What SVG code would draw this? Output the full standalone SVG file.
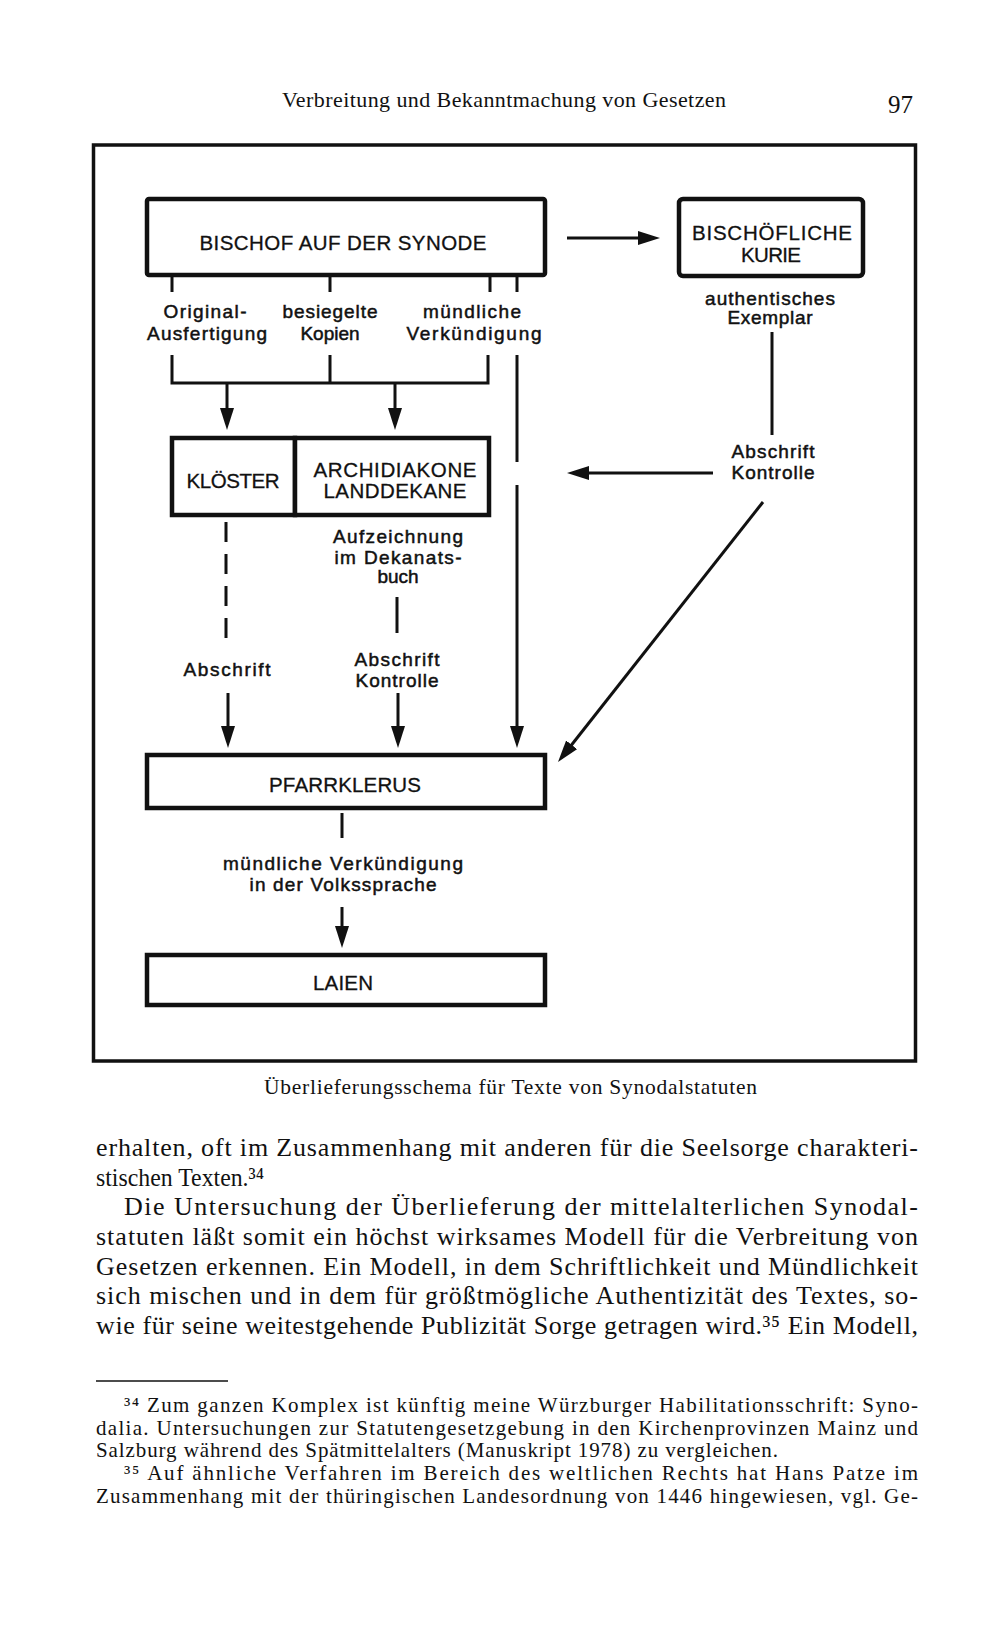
<svg xmlns="http://www.w3.org/2000/svg" width="1000" height="1626" viewBox="0 0 1000 1626">
<style>
.page{font-family:"Liberation Serif","Times New Roman",serif;fill:#111}
.body{font-size:26px}
.fn{font-size:21px}
.box{fill:#fff;stroke:#111;stroke-width:4.5}
.ttl{font-family:"Liberation Sans",Arial,sans-serif;font-size:20.5px;fill:#111;text-anchor:middle;stroke:#111;stroke-width:0.3}
.lbl{font-family:"Liberation Sans",Arial,sans-serif;font-size:19px;fill:#111;text-anchor:middle;stroke:#111;stroke-width:0.5}
.con{fill:none;stroke:#111;stroke-width:3}
.arr{marker-end:url(#ah)}
</style>
<defs>
<marker id="ah" markerUnits="userSpaceOnUse" markerWidth="22" markerHeight="14" refX="12" refY="7" orient="auto" viewBox="0 0 22 14">
<path d="M0,0 L22,7 L0,14 z" fill="#111"/>
</marker>
</defs>
<rect width="1000" height="1626" fill="#fff"/>

<!-- page header -->
<text class="page" x="282" y="107" font-size="22" textLength="444">Verbreitung und Bekanntmachung von Gesetzen</text>
<text class="page" x="888" y="113" font-size="25" textLength="25">97</text>

<!-- frame -->
<rect x="93.5" y="145" width="822" height="916" fill="none" stroke="#111" stroke-width="3.5"/>

<!-- connectors -->
<g id="connectors">
<path class="con arr" d="M567,238 H650"/>
<path class="con" d="M172,277 V292 M330,277 V292 M490,277 V292 M517,277 V292"/>
<path class="con" d="M172,355 V383 H488 V355 M330,355 V383"/>
<path class="con arr" d="M227,383 V420"/>
<path class="con arr" d="M395,383 V420"/>
<path class="con" d="M517,355 V462"/>
<path class="con arr" d="M517,485 V738"/>
<path class="con" d="M772,332 V435"/>
<path class="con arr" d="M713,473 H577"/>
<path class="con arr" d="M763,502 L564.2,754.2"/>
<path class="con" d="M226,522 V640" stroke-dasharray="20 12"/>
<path class="con" d="M397,597 V633"/>
<path class="con arr" d="M228,693 V738"/>
<path class="con arr" d="M398,693 V738"/>
<path class="con" d="M342,813 V838"/>
<path class="con arr" d="M342,907 V938"/>
</g>

<!-- nodes -->
<g id="bischof">
<rect class="box" x="147" y="199" width="398" height="76" rx="2"/>
<text class="ttl" x="343" y="250" textLength="287">BISCHOF AUF DER SYNODE</text>
</g>
<g id="kurie">
<rect class="box" x="679" y="199" width="184" height="77" rx="4"/>
<text class="ttl" x="772" y="240" textLength="160">BISCHÖFLICHE</text>
<text class="ttl" x="771" y="262" textLength="60">KURIE</text>
</g>
<g id="kloester">
<rect class="box" x="172" y="438" width="123" height="77"/>
<text class="ttl" x="233" y="488" textLength="93">KLÖSTER</text>
</g>
<g id="archidiakone">
<rect class="box" x="295" y="438" width="194" height="77"/>
<text class="ttl" x="395" y="477" textLength="163">ARCHIDIAKONE</text>
<text class="ttl" x="395" y="498" textLength="143">LANDDEKANE</text>
</g>
<g id="pfarrklerus">
<rect class="box" x="147" y="755" width="398" height="53"/>
<text class="ttl" x="345" y="792" textLength="152">PFARRKLERUS</text>
</g>
<g id="laien">
<rect class="box" x="147" y="955" width="398" height="50"/>
<text class="ttl" x="343" y="990" textLength="60">LAIEN</text>
</g>

<!-- connector labels -->
<g id="labels">
<text class="lbl" x="205" y="318" textLength="83">Original-</text>
<text class="lbl" x="207" y="340" textLength="120">Ausfertigung</text>
<text class="lbl" x="330" y="318" textLength="95">besiegelte</text>
<text class="lbl" x="330" y="340">Kopien</text>
<text class="lbl" x="472" y="318" textLength="98">mündliche</text>
<text class="lbl" x="474" y="340" textLength="135">Verkündigung</text>
<text class="lbl" x="770" y="305" textLength="130">authentisches</text>
<text class="lbl" x="770" y="324" textLength="85">Exemplar</text>
<text class="lbl" x="773" y="458" textLength="83">Abschrift</text>
<text class="lbl" x="773" y="479" textLength="83">Kontrolle</text>
<text class="lbl" x="398" y="543" textLength="130">Aufzeichnung</text>
<text class="lbl" x="398" y="564" textLength="127">im Dekanats-</text>
<text class="lbl" x="398" y="583">buch</text>
<text class="lbl" x="227" y="676" textLength="87">Abschrift</text>
<text class="lbl" x="397" y="666" textLength="85">Abschrift</text>
<text class="lbl" x="397" y="687" textLength="83">Kontrolle</text>
<text class="lbl" x="343" y="870" textLength="240">mündliche Verkündigung</text>
<text class="lbl" x="343" y="891" textLength="187">in der Volkssprache</text>
</g>

<!-- caption -->
<text class="page" x="264" y="1094" font-size="21.5" textLength="493">Überlieferungsschema für Texte von Synodalstatuten</text>

<!-- body text -->
<g class="page body">
<text x="96" y="1156" textLength="822">erhalten, oft im Zusammenhang mit anderen für die Seelsorge charakteri-</text>
<text x="96" y="1186" textLength="168" lengthAdjust="spacingAndGlyphs">stischen Texten.³⁴</text>
<text x="124" y="1215" textLength="794">Die Untersuchung der Überlieferung der mittelalterlichen Synodal-</text>
<text x="96" y="1245" textLength="822">statuten läßt somit ein höchst wirksames Modell für die Verbreitung von</text>
<text x="96" y="1275" textLength="822">Gesetzen erkennen. Ein Modell, in dem Schriftlichkeit und Mündlichkeit</text>
<text x="96" y="1304" textLength="822">sich mischen und in dem für größtmögliche Authentizität des Textes, so-</text>
<text x="96" y="1334" textLength="822">wie für seine weitestgehende Publizität Sorge getragen wird.³⁵ Ein Modell,</text>
</g>

<!-- footnotes -->
<path d="M96,1381 H228" stroke="#111" stroke-width="1.6"/>
<g class="page fn">
<text x="124" y="1412" textLength="794">³⁴ Zum ganzen Komplex ist künftig meine Würzburger Habilitationsschrift: Syno-</text>
<text x="96" y="1435" textLength="822">dalia. Untersuchungen zur Statutengesetzgebung in den Kirchenprovinzen Mainz und</text>
<text x="96" y="1457" textLength="682">Salzburg während des Spätmittelalters (Manuskript 1978) zu vergleichen.</text>
<text x="124" y="1480" textLength="794">³⁵ Auf ähnliche Verfahren im Bereich des weltlichen Rechts hat Hans Patze im</text>
<text x="96" y="1503" textLength="822">Zusammenhang mit der thüringischen Landesordnung von 1446 hingewiesen, vgl. Ge-</text>
</g>
</svg>
